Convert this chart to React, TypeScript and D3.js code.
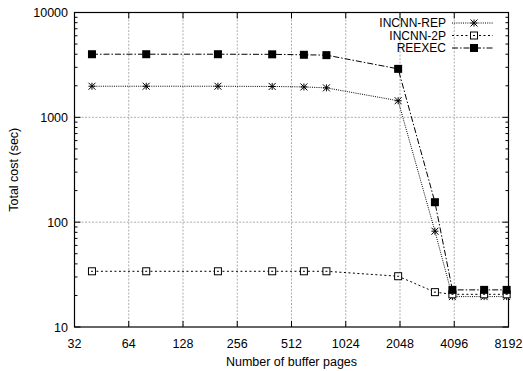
import React from "react";
import * as d3 from "d3";

const bufferPages = [40, 80, 200, 400, 600, 800, 2000, 3200, 4000, 6000, 8000];
const incnnRep = [1980, 1980, 1980, 1970, 1950, 1910, 1440, 82, 19.5, 19.5, 19.5];
const incnn2p = [34, 34, 34, 34, 34, 34, 30.5, 21.5, 20.5, 20.5, 20.5];
const reexec = [4000, 4000, 4000, 3990, 3950, 3920, 2900, 155, 22.6, 22.6, 22.6];
const xTicks = [32, 64, 128, 256, 512, 1024, 2048, 4096, 8192];
const yTicks = [10, 100, 1000, 10000];
const seriesNames = ["INCNN-REP", "INCNN-2P", "REEXEC"];

const FONT = "'Liberation Sans', Arial, Helvetica, sans-serif";

function Marker({ kind, x, y }: { kind: string; x: number; y: number }) {
  if (kind === "INCNN-REP") {
    const r = 3.5;
    return (
      <g stroke="#000" strokeWidth={1}>
        <line x1={x - r} y1={y} x2={x + r} y2={y} />
        <line x1={x} y1={y - r} x2={x} y2={y + r} />
        <line x1={x - r} y1={y - r} x2={x + r} y2={y + r} />
        <line x1={x - r} y1={y + r} x2={x + r} y2={y - r} />
      </g>
    );
  }
  if (kind === "INCNN-2P") {
    return (
      <g>
        <rect x={x - 3.5} y={y - 3.5} width={7} height={7} fill="#fff" stroke="#000" strokeWidth={1} />
        <line x1={x - 1} y1={y} x2={x + 1} y2={y} stroke="#000" strokeWidth={1} />
      </g>
    );
  }
  return <rect x={x - 4} y={y - 4} width={8} height={8} fill="#000" />;
}

export default function App() {
  const W = 523, H = 371;
  const L = 74.5, R = 508.5, T = 12.5, B = 327;
  const x = d3.scaleLog().base(2).domain([32, 8192]).range([L, R]);
  const y = d3.scaleLog().domain([10, 10000]).range([B, T]);

  const dashes: Record<string, string> = {
    "INCNN-REP": "1,1.2",
    "INCNN-2P": "2,2.5",
    REEXEC: "6,2,1.5,2",
  };
  const data: Record<string, number[]> = {
    "INCNN-REP": incnnRep,
    "INCNN-2P": incnn2p,
    REEXEC: reexec,
  };
  const line = d3
    .line<number>()
    .x((_, i) => x(bufferPages[i]))
    .y((d) => y(d));

  const minorY: number[] = [];
  for (let dec = 10; dec < 10000; dec *= 10) {
    for (let m = 2; m <= 9; m++) minorY.push(dec * m);
  }

  const legendY = [23, 35.5, 48];

  return (
    <svg width={W} height={H} style={{ position: "absolute", left: 0, top: 0, background: "#fff" }} fontFamily={FONT}>
      <rect x={0} y={0} width={W} height={H} fill="#fff" />
      {/* grid */}
      <g stroke="#999" strokeWidth={0.8} strokeDasharray="2,1.5">
        {xTicks.slice(1, -1).map((t) => (
          <line key={"gx" + t} x1={x(t)} x2={x(t)} y1={T} y2={B} />
        ))}
        {yTicks.slice(1, -1).map((t) => (
          <line key={"gy" + t} x1={L} x2={R} y1={y(t)} y2={y(t)} />
        ))}
      </g>
      {/* ticks */}
      <g stroke="#000" strokeWidth={1}>
        {xTicks.map((t) => (
          <g key={"tx" + t}>
            <line x1={x(t)} x2={x(t)} y1={B} y2={B - 6} />
            <line x1={x(t)} x2={x(t)} y1={T} y2={T + 6} />
          </g>
        ))}
        {yTicks.map((t) => (
          <g key={"ty" + t}>
            <line x1={L} x2={L + 6} y1={y(t)} y2={y(t)} />
            <line x1={R} x2={R - 6} y1={y(t)} y2={y(t)} />
          </g>
        ))}
        {minorY.map((t) => (
          <g key={"my" + t}>
            <line x1={L} x2={L + 3} y1={y(t)} y2={y(t)} />
            <line x1={R} x2={R - 3} y1={y(t)} y2={y(t)} />
          </g>
        ))}
      </g>
      <rect x={L} y={T} width={R - L} height={B - T} fill="none" stroke="#000" strokeWidth={1.2} />
      {/* tick labels */}
      <g fontSize={12.5} fill="#000">
        {xTicks.map((t) => (
          <text key={"lx" + t} x={x(t)} y={348} textAnchor="middle">
            {t}
          </text>
        ))}
        {yTicks.map((t) => (
          <text key={"ly" + t} x={68} y={y(t) + 4.5} textAnchor="end">
            {t}
          </text>
        ))}
      </g>
      <text x={(L + R) / 2} y={366} textAnchor="middle" fontSize={12.5}>
        Number of buffer pages
      </text>
      <text transform={`translate(18,${(T + B) / 2}) rotate(-90)`} textAnchor="middle" fontSize={12.5}>
        Total cost (sec)
      </text>
      {/* series */}
      {seriesNames.map((name) => (
        <g key={name}>
          <path d={line(data[name]) || ""} fill="none" stroke="#000" strokeWidth={1} strokeDasharray={dashes[name]} />
          {data[name].map((v, i) => (
            <Marker key={i} kind={name} x={x(bufferPages[i])} y={y(v)} />
          ))}
        </g>
      ))}
      {/* legend */}
      {seriesNames.map((name, i) => (
        <g key={"leg" + name}>
          <text x={446} y={legendY[i] + 4.3} textAnchor="end" fontSize={12}>
            {name}
          </text>
          <line x1={452} x2={493} y1={legendY[i]} y2={legendY[i]} stroke="#000" strokeWidth={1} strokeDasharray={dashes[name]} />
          <Marker kind={name} x={474} y={legendY[i]} />
        </g>
      ))}
    </svg>
  );
}
